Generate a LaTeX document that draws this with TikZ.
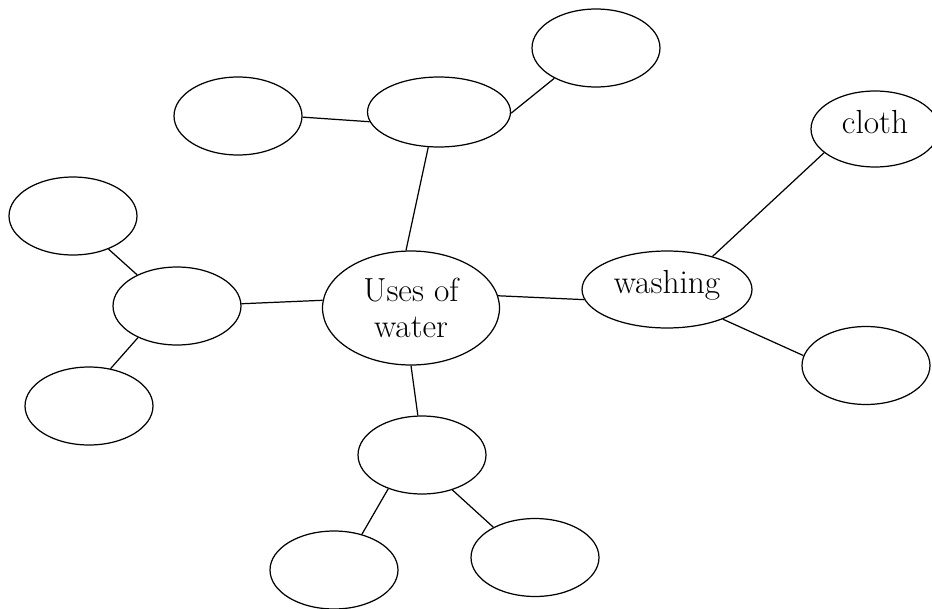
\documentclass[tikz,border=0pt]{standalone}
\usetikzlibrary{shapes.geometric}

\begin{document}
\begin{tikzpicture}[
  x=0.02cm,y=-0.02cm,
  bubble/.style={ellipse,draw=black,line width=0.7pt,inner sep=0pt,
                 minimum width=2.56cm,minimum height=1.56cm,align=center,
                 font=\fontsize{19}{20.5}\selectfont},
  word/.style={bubble,text height=13pt,text depth=8.4pt},
  link/.style={black,line width=0.7pt}
]
\useasboundingbox (0,0) rectangle (932,608);
\node[bubble,minimum width=3.54cm,minimum height=2.28cm] (uses) at (411,308) {Uses of\\water};
\node[bubble,minimum width=2.86cm,minimum height=1.4cm] (top) at (439,112) {};
\node[bubble] (topleft) at (238,116) {};
\node[bubble] (topright) at (596,48) {};
\node[bubble] (lefttop) at (73,216) {};
\node[bubble] (leftmid) at (177,306) {};
\node[bubble] (leftbot) at (89,406) {};
\node[word,minimum width=3.4cm,minimum height=1.54cm] (washing) at (667,289.5) {washing};
\node[word,minimum height=1.52cm] (cloth) at (875,129) {cloth};
\node[bubble] (rightbot) at (866,365.5) {};
\node[bubble] (bottom) at (422,455) {};
\node[bubble] (botleft) at (334,570) {};
\node[bubble] (botright) at (535,557.5) {};
\draw[link] (uses.95) -- (top.253);
\draw[link] (topleft.359) -- (top.188);
\draw[link] (top.359) -- (topright.216);
\draw[link] (lefttop.317) -- (leftmid.142);
\draw[link] (leftmid.219) -- (leftbot.60);
\draw[link] (leftmid.2) -- (uses.175);
\draw[link] (uses.8) -- (washing.187);
\draw[link] (washing.36) -- (cloth.205);
\draw[link] (washing.332) -- (rightbot.171);
\draw[link] (uses.270) -- (bottom.96);
\draw[link] (bottom.225) -- (botleft.52);
\draw[link] (bottom.311) -- (botright.144);
\end{tikzpicture}
\end{document}
